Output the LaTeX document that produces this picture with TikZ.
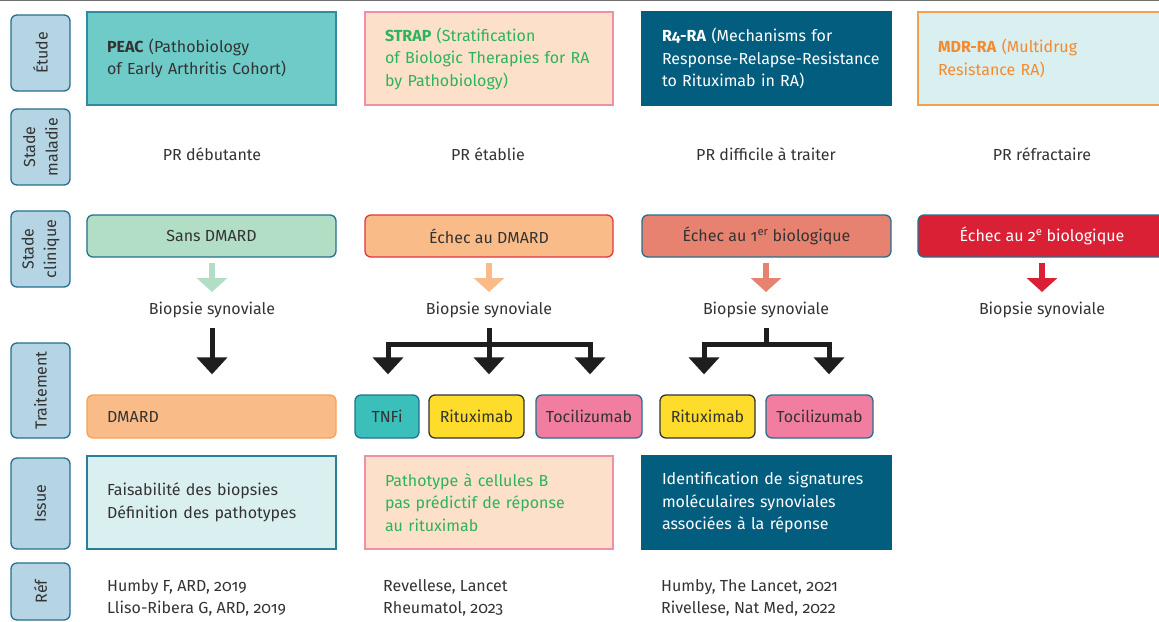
\documentclass[tikz,border=0pt]{standalone}
\usepackage{fontspec}
\setmainfont{Fira Sans}[Numbers=OldStyle]
\usetikzlibrary{arrows.meta,calc}
\definecolor{txt}{HTML}{333333}
\definecolor{labfill}{HTML}{B5D4E4}
\definecolor{labdraw}{HTML}{24708F}
\definecolor{peacfill}{HTML}{6FCBC8}
\definecolor{peacdraw}{HTML}{2E8C9E}
\definecolor{strapfill}{HTML}{FDE0CA}
\definecolor{strapdraw}{HTML}{F090A8}
\definecolor{strapgreen}{HTML}{2DB35B}
\definecolor{rfour}{HTML}{025D7F}
\definecolor{mdrfill}{HTML}{DAEFF0}
\definecolor{mdrdraw}{HTML}{F5A04E}
\definecolor{mdrtext}{HTML}{F58A2C}
\definecolor{sansfill}{HTML}{B3DEC6}
\definecolor{echecfill}{HTML}{F9BC89}
\definecolor{echecdraw}{HTML}{E5333F}
\definecolor{bioonefill}{HTML}{E88270}
\definecolor{biotwofill}{HTML}{DA2035}
\definecolor{dmarddraw}{HTML}{F4A259}
\definecolor{tnfifill}{HTML}{3BBFBB}
\definecolor{ritfill}{HTML}{FDDC2C}
\definecolor{tocifill}{HTML}{F17DA0}
\definecolor{issuedraw}{HTML}{2A7E96}
\definecolor{blackarrow}{HTML}{1E1E1E}
\definecolor{topline}{HTML}{707070}
\begin{document}
\begin{tikzpicture}[x=1pt,y=-1pt,
  font=\fontsize{16}{22.5}\selectfont,
  every node/.style={text=txt},
  lab/.style={draw=labdraw, fill=labfill, line width=1.3pt, rounded corners=6pt,
    rotate=90, align=center, inner sep=0pt, minimum height=59pt},
  sq/.style={draw, line width=1.3pt, align=left, inner xsep=20pt, inner ysep=0pt},
  rbox/.style={draw, line width=1.3pt, rounded corners=6pt, inner sep=0pt, minimum height=42pt, align=center},
  plain/.style={inner sep=0pt},
  blk/.style={draw=blackarrow, line width=5pt, -{Triangle[width=30pt,length=17pt]}},
  lgt/.style={line width=6pt, -{Triangle[width=30pt,length=14pt]}, shorten <=5pt}
]
\useasboundingbox (0,0) rectangle (1159,621);
\clip (0,0) rectangle (1159,621);
\draw[topline, line width=1.3pt] (0,0.6) -- (1159,0.6);

% left labels
\node[lab, minimum width=76pt] (l1) at (40.5,53) {Étude};
\node[lab, minimum width=76pt] (l2) at (40.5,147) {Stade\\maladie};
\node[lab, minimum width=76pt] (l3) at (40.5,249) {Stade\\clinique};
\node[lab, minimum width=95pt] (l4) at (40.5,390.5) {Traitement};
\node[lab, minimum width=91pt] (l5) at (40.5,503.5) {Issue};
\node[lab, minimum width=57pt] (l6) at (40.5,591.5) {Réf};

% study row
\node[sq, fill=peacfill, draw=peacdraw, minimum height=93pt, text width=209pt] (peac) at (211.5,58.5)
  {\textbf{PEAC} (Pathobiology\\of Early Arthritis Cohort)};
\node[sq, fill=strapfill, draw=strapdraw, text=strapgreen, minimum height=93pt, text width=208pt] (strap) at (489,58.5)
  {\textbf{STRAP} (Stratification\\of Biologic Therapies for RA\\by Pathobiology)};
\node[sq, fill=rfour, draw=rfour, text=white, minimum height=93pt, text width=209pt] (rfour) at (766.5,58.5)
  {\textbf{R4-RA} (Mechanisms for\\\mbox{Response-Relapse-Resistance}\\to Rituximab in RA)};
\node[sq, fill=mdrfill, draw=mdrdraw, text=mdrtext, minimum height=93pt, text width=208pt] (mdr) at (1042,58.5)
  {\textbf{MDR-RA} (Multidrug\\Resistance RA)};

% disease stage
\node[plain] (m1) at (212,154) {PR débutante};
\node[plain] (m2) at (488,154) {PR établie};
\node[plain] (m3) at (766,154) {PR difficile à traiter};
\node[plain] (m4) at (1042,154) {PR réfractaire};

% clinical stage
\node[rbox, fill=sansfill, draw=labdraw, minimum width=249pt] (c1) at (211.5,236) {Sans DMARD};
\node[rbox, fill=echecfill, draw=echecdraw, minimum width=248pt] (c2) at (489,236) {Échec au DMARD};
\node[rbox, fill=bioonefill, draw=labdraw, minimum width=249pt] (c3) at (766.5,236) {Échec au 1\textsuperscript{er} biologique};
\node[rbox, fill=biotwofill, draw=labdraw, text=white, minimum width=248pt] (c4) at (1042,236) {Échec au 2\textsuperscript{e} biologique};

% biopsies
\node[plain] (b1) at (212,310) {Biopsie synoviale};
\node[plain] (b2) at (489,310) {Biopsie synoviale};
\node[plain] (b3) at (766,310) {Biopsie synoviale};
\node[plain] (b4) at (1042,310) {Biopsie synoviale};

\draw[lgt, draw=sansfill] (c1.south -| b1) -- ($(b1)+(0,-18)$);
\draw[lgt, draw=echecfill] (c2.south -| b2) -- ($(b2)+(0,-18)$);
\draw[lgt, draw=bioonefill] (c3.south -| b3) -- ($(b3)+(0,-18)$);
\draw[lgt, draw=biotwofill] (c4.south -| b4) -- ($(b4)+(0,-18)$);

% treatments
\node[rbox, fill=echecfill, draw=dmarddraw, minimum width=249pt, minimum height=43pt, text width=209pt, align=left] (t1) at (211.5,416.5) {DMARD};
\node[rbox, fill=tnfifill, draw=labdraw, minimum width=64pt, minimum height=43pt] (t2) at (387,416.5) {TNFi};
\node[rbox, fill=ritfill, draw=txt, minimum width=95pt, minimum height=43pt] (t3) at (476.5,416.5) {Rituximab};
\node[rbox, fill=tocifill, draw=labdraw, minimum width=106pt, minimum height=43pt] (t4) at (589,416.5) {Tocilizumab};
\node[rbox, fill=ritfill, draw=txt, minimum width=95pt, minimum height=43pt] (t5) at (707.5,416.5) {Rituximab};
\node[rbox, fill=tocifill, draw=labdraw, minimum width=107pt, minimum height=43pt] (t6) at (819.5,416.5) {Tocilizumab};

\draw[blk] ($(b1)+(0,18)$) -- ($(t1.north -| b1)+(0,-20)$);
\draw[blk] ($(b2)+(0,18)$) -- ($(b2)+(0,34)$) -| ($(t2.north)+(1,-20)$);
\draw[blk] ($(b2)+(0,18)$) -- ($(t3.north -| b2)+(0,-20)$);
\draw[blk] ($(b2)+(0,34)$) -| ($(t4.north)+(1,-20)$);
\draw[blk] ($(b3)+(0,18)$) -- ($(b3)+(0,34)$) -| ($(t5.north)+(-3.5,-20)$);
\draw[blk] ($(b3)+(0,34)$) -| ($(t6.north)+(9.5,-20)$);

% issue
\node[sq, fill=mdrfill, draw=issuedraw, minimum height=93pt, text width=209pt] (i1) at (211.5,502.5)
  {Faisabilité des biopsies\\Définition des pathotypes};
\node[sq, fill=strapfill, draw=strapdraw, text=strapgreen, minimum height=93pt, text width=208pt] (i2) at (489,502.5)
  {Pathotype à cellules B\\pas prédictif de réponse\\au rituximab};
\node[sq, fill=rfour, draw=rfour, text=white, minimum height=93pt, text width=209pt] (i3) at (766.5,502.5)
  {Identification de signatures\\moléculaires synoviales\\associées à la réponse};

% references
\node[plain, anchor=west, align=left] (r1) at (107,598) {Humby F, ARD, 2019\\Lliso-Ribera G, ARD, 2019};
\node[plain, anchor=west, align=left] (r2) at (383,598) {Revellese, Lancet\\Rheumatol, 2023};
\node[plain, anchor=west, align=left] (r3) at (661,598) {Humby, The Lancet, 2021\\Rivellese, Nat Med, 2022};
\end{tikzpicture}
\end{document}
